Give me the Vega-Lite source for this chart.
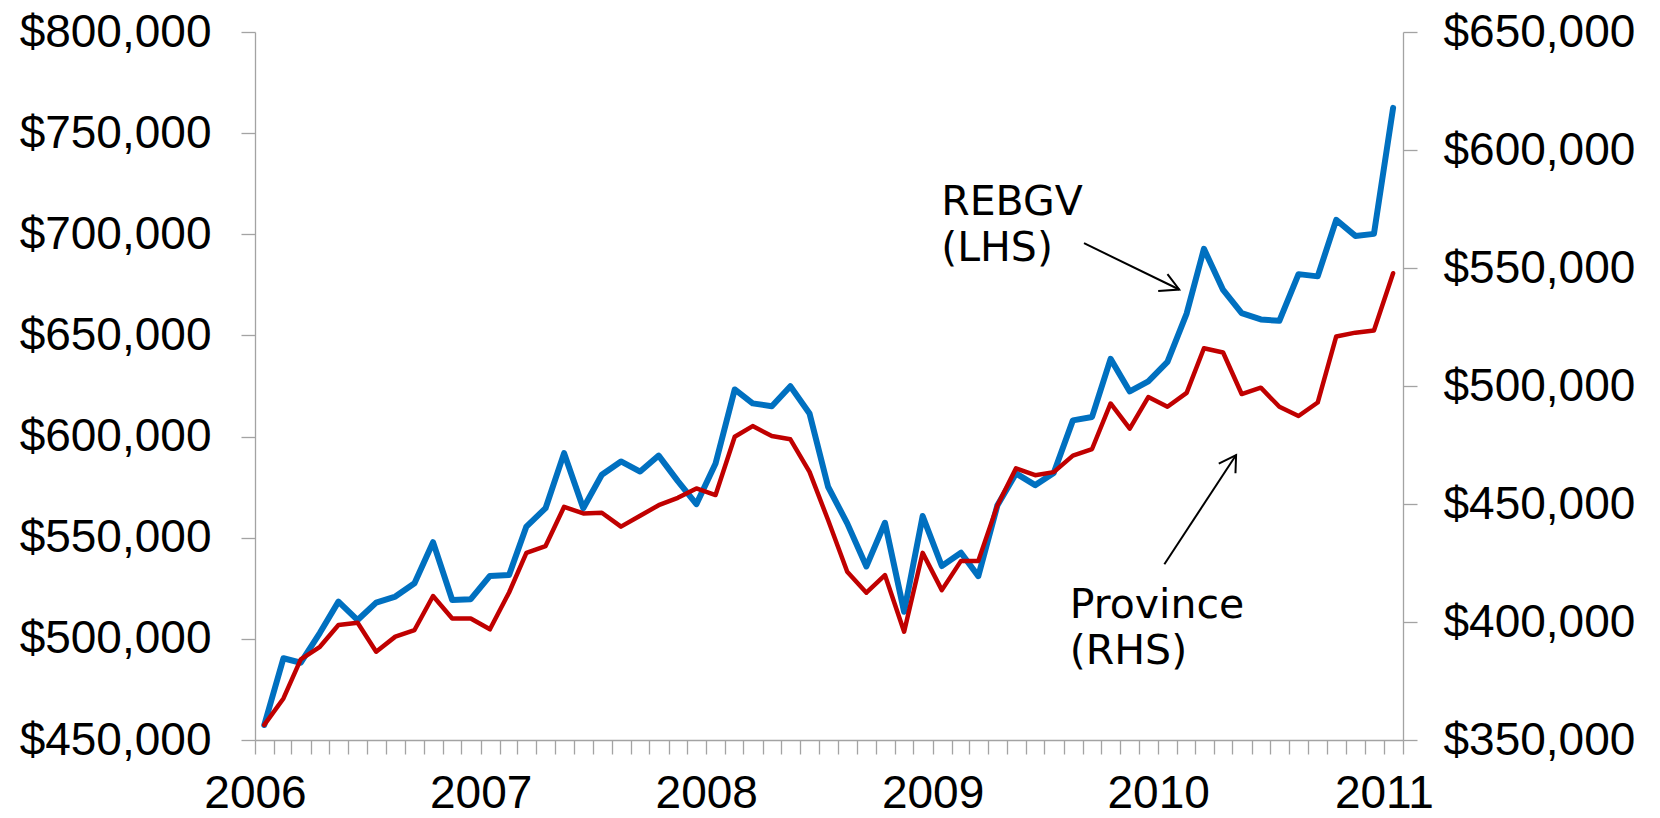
{
  "$schema": "https://vega.github.io/schema/vega-lite/v6.json",
  "width": 1148,
  "height": 708,
  "autosize": {"type": "none"},
  "padding": {"left": 255, "top": 32, "right": 257, "bottom": 78},
  "background": "#ffffff",
  "config": {"view": {"stroke": null}, "font": "Liberation Sans"},
  "datasets": {
    "rebgv": [
      {"date": "2006-01-16", "value": 457400}, {"date": "2006-02-16", "value": 490400}, {"date": "2006-03-16", "value": 488200},
      {"date": "2006-04-16", "value": 503000}, {"date": "2006-05-16", "value": 518400}, {"date": "2006-06-16", "value": 509300},
      {"date": "2006-07-16", "value": 517900}, {"date": "2006-08-16", "value": 520900}, {"date": "2006-09-16", "value": 527500},
      {"date": "2006-10-16", "value": 547800}, {"date": "2006-11-16", "value": 519200}, {"date": "2006-12-16", "value": 519600},
      {"date": "2007-01-16", "value": 531100}, {"date": "2007-02-16", "value": 531600}, {"date": "2007-03-16", "value": 555500},
      {"date": "2007-04-16", "value": 564600}, {"date": "2007-05-16", "value": 591800}, {"date": "2007-06-16", "value": 564600},
      {"date": "2007-07-16", "value": 581100}, {"date": "2007-08-16", "value": 587700}, {"date": "2007-09-16", "value": 582700},
      {"date": "2007-10-16", "value": 590600}, {"date": "2007-11-16", "value": 578000}, {"date": "2007-12-16", "value": 566600},
      {"date": "2008-01-16", "value": 586700}, {"date": "2008-02-16", "value": 623300}, {"date": "2008-03-16", "value": 616400},
      {"date": "2008-04-16", "value": 615000}, {"date": "2008-05-16", "value": 624900}, {"date": "2008-06-16", "value": 611400},
      {"date": "2008-07-16", "value": 575200}, {"date": "2008-08-16", "value": 557100}, {"date": "2008-09-16", "value": 535800},
      {"date": "2008-10-16", "value": 557400}, {"date": "2008-11-16", "value": 513400}, {"date": "2008-12-16", "value": 560700},
      {"date": "2009-01-16", "value": 536000}, {"date": "2009-02-16", "value": 542600}, {"date": "2009-03-16", "value": 531000},
      {"date": "2009-04-16", "value": 566100}, {"date": "2009-05-16", "value": 581800}, {"date": "2009-06-16", "value": 576000},
      {"date": "2009-07-16", "value": 582000}, {"date": "2009-08-16", "value": 608000}, {"date": "2009-09-16", "value": 609700},
      {"date": "2009-10-16", "value": 638400}, {"date": "2009-11-16", "value": 622300}, {"date": "2009-12-16", "value": 627300},
      {"date": "2010-01-16", "value": 636900}, {"date": "2010-02-16", "value": 660800}, {"date": "2010-03-16", "value": 692800},
      {"date": "2010-04-16", "value": 672500}, {"date": "2010-05-16", "value": 661000}, {"date": "2010-06-16", "value": 657900},
      {"date": "2010-07-16", "value": 657200}, {"date": "2010-08-16", "value": 680300}, {"date": "2010-09-16", "value": 679200},
      {"date": "2010-10-16", "value": 707100}, {"date": "2010-11-16", "value": 699200}, {"date": "2010-12-16", "value": 700200},
      {"date": "2011-01-16", "value": 762500}
    ],
    "province": [
      {"date": "2006-01-16", "value": 356400}, {"date": "2006-02-16", "value": 367600}, {"date": "2006-03-16", "value": 384200},
      {"date": "2006-04-16", "value": 389500}, {"date": "2006-05-16", "value": 398700}, {"date": "2006-06-16", "value": 399700},
      {"date": "2006-07-16", "value": 387400}, {"date": "2006-08-16", "value": 393800}, {"date": "2006-09-16", "value": 396600},
      {"date": "2006-10-16", "value": 411000}, {"date": "2006-11-16", "value": 401500}, {"date": "2006-12-16", "value": 401500},
      {"date": "2007-01-16", "value": 396900}, {"date": "2007-02-16", "value": 412500}, {"date": "2007-03-16", "value": 429300},
      {"date": "2007-04-16", "value": 432200}, {"date": "2007-05-16", "value": 448800}, {"date": "2007-06-16", "value": 446000},
      {"date": "2007-07-16", "value": 446300}, {"date": "2007-08-16", "value": 440400}, {"date": "2007-09-16", "value": 445000},
      {"date": "2007-10-16", "value": 449500}, {"date": "2007-11-16", "value": 452600}, {"date": "2007-12-16", "value": 456600},
      {"date": "2008-01-16", "value": 453800}, {"date": "2008-02-16", "value": 478500}, {"date": "2008-03-16", "value": 483000},
      {"date": "2008-04-16", "value": 478800}, {"date": "2008-05-16", "value": 477400}, {"date": "2008-06-16", "value": 463600},
      {"date": "2008-07-16", "value": 443200}, {"date": "2008-08-16", "value": 421300}, {"date": "2008-09-16", "value": 412400},
      {"date": "2008-10-16", "value": 419900}, {"date": "2008-11-16", "value": 395900}, {"date": "2008-12-16", "value": 429300},
      {"date": "2009-01-16", "value": 413500}, {"date": "2009-02-16", "value": 425900}, {"date": "2009-03-16", "value": 425900},
      {"date": "2009-04-16", "value": 449500}, {"date": "2009-05-16", "value": 465100}, {"date": "2009-06-16", "value": 462200},
      {"date": "2009-07-16", "value": 463500}, {"date": "2009-08-16", "value": 470500}, {"date": "2009-09-16", "value": 473300},
      {"date": "2009-10-16", "value": 492600}, {"date": "2009-11-16", "value": 481900}, {"date": "2009-12-16", "value": 495300},
      {"date": "2010-01-16", "value": 491200}, {"date": "2010-02-16", "value": 497100}, {"date": "2010-03-16", "value": 516000},
      {"date": "2010-04-16", "value": 514200}, {"date": "2010-05-16", "value": 496600}, {"date": "2010-06-16", "value": 499300},
      {"date": "2010-07-16", "value": 491200}, {"date": "2010-08-16", "value": 487300}, {"date": "2010-09-16", "value": 493000},
      {"date": "2010-10-16", "value": 521000}, {"date": "2010-11-16", "value": 522600}, {"date": "2010-12-16", "value": 523500},
      {"date": "2011-01-16", "value": 547800}
    ],
    "notes": [
      {"side": "left", "date": "2009-01-15", "value": 709400, "label": "REBGV\n(LHS)"},
      {"side": "right", "date": "2009-08-11", "value": 401500, "label": "Province\n(RHS)"}
    ],
    "arrows": [
      {"side": "left", "part": "shaft", "seq": 0, "date": "2009-09-03", "value": 695600},
      {"side": "left", "part": "shaft", "seq": 1, "date": "2010-02-04", "value": 672700},
      {"side": "left", "part": "head", "seq": 0, "date": "2010-01-16", "value": 680300},
      {"side": "left", "part": "head", "seq": 1, "date": "2010-02-04", "value": 672700},
      {"side": "left", "part": "head", "seq": 2, "date": "2010-01-01", "value": 672000},
      {"side": "right", "part": "shaft", "seq": 0, "date": "2010-01-11", "value": 424500},
      {"side": "right", "part": "shaft", "seq": 1, "date": "2010-05-07", "value": 470750},
      {"side": "right", "part": "head", "seq": 0, "date": "2010-04-09", "value": 467150},
      {"side": "right", "part": "head", "seq": 1, "date": "2010-05-07", "value": 470750},
      {"side": "right", "part": "head", "seq": 2, "date": "2010-05-06", "value": 463050}
    ]
  },
  "encoding": {
    "x": {
      "field": "date",
      "type": "temporal",
      "scale": {
        "type": "utc",
        "domain": [
          {"year": 2006, "month": 1, "date": 1, "utc": true},
          {"year": 2011, "month": 2, "date": 1, "utc": true}
        ]
      },
      "axis": {
        "orient": "bottom",
        "title": null,
        "grid": false,
        "tickCount": {"interval": "month", "step": 1},
        "labelExpr": "utcmonth(datum.value) === 0 ? utcFormat(datum.value, '%Y') : ''",
        "labelFlush": false,
        "labelOverlap": false,
        "labelBound": false,
        "labelLimit": 0,
        "labelDx": 9.4,
        "labelPadding": 17,
        "labelFont": "Liberation Sans",
        "labelFontSize": 46,
        "labelColor": "#000000",
        "tickSize": 14,
        "tickColor": "#a3a3a3",
        "tickWidth": 1.3,
        "domainColor": "#a3a3a3",
        "domainWidth": 1.3
      }
    }
  },
  "layer": [
    {
      "encoding": {
        "y": {
          "field": "value",
          "type": "quantitative",
          "scale": {"domain": [450000, 800000], "nice": false, "zero": false},
          "axis": {
            "orient": "left",
            "title": null,
            "grid": false,
            "values": [450000, 500000, 550000, 600000, 650000, 700000, 750000, 800000],
            "format": "$,.0f",
            "labelFont": "Liberation Sans",
            "labelFontSize": 46,
            "labelColor": "#000000",
            "labelLimit": 0,
            "labelPadding": 30,
            "tickSize": 14,
            "tickColor": "#a3a3a3",
            "tickWidth": 1.3,
            "domainColor": "#a3a3a3",
            "domainWidth": 1.3
          }
        }
      },
      "layer": [
        {
          "data": {"name": "rebgv"},
          "mark": {"type": "line", "color": "#0070C0", "strokeWidth": 6, "strokeJoin": "round", "strokeCap": "round"}
        },
        {
          "data": {"name": "notes"},
          "transform": [{"filter": "datum.side === 'left'"}],
          "mark": {"type": "text", "align": "left", "baseline": "alphabetic", "lineBreak": "\n", "lineHeight": 46, "font": "DejaVu Sans", "fontSize": 41, "color": "#000000"},
          "encoding": {"text": {"field": "label"}}
        },
        {
          "data": {"name": "arrows"},
          "transform": [{"filter": "datum.side === 'left'"}],
          "mark": {"type": "line", "color": "#000000", "strokeWidth": 2},
          "encoding": {"detail": {"field": "part"}, "order": {"field": "seq"}}
        }
      ]
    },
    {
      "encoding": {
        "y": {
          "field": "value",
          "type": "quantitative",
          "scale": {"domain": [350000, 650000], "nice": false, "zero": false},
          "axis": {
            "orient": "right",
            "title": null,
            "grid": false,
            "values": [350000, 400000, 450000, 500000, 550000, 600000, 650000],
            "format": "$,.0f",
            "labelFont": "Liberation Sans",
            "labelFontSize": 46,
            "labelColor": "#000000",
            "labelLimit": 0,
            "labelPadding": 26,
            "tickSize": 14,
            "tickColor": "#a3a3a3",
            "tickWidth": 1.3,
            "domainColor": "#a3a3a3",
            "domainWidth": 1.3
          }
        }
      },
      "layer": [
        {
          "data": {"name": "province"},
          "mark": {"type": "line", "color": "#C00000", "strokeWidth": 4.5, "strokeJoin": "round", "strokeCap": "round"}
        },
        {
          "data": {"name": "notes"},
          "transform": [{"filter": "datum.side === 'right'"}],
          "mark": {"type": "text", "align": "left", "baseline": "alphabetic", "lineBreak": "\n", "lineHeight": 46, "font": "DejaVu Sans", "fontSize": 41, "color": "#000000"},
          "encoding": {"text": {"field": "label"}}
        },
        {
          "data": {"name": "arrows"},
          "transform": [{"filter": "datum.side === 'right'"}],
          "mark": {"type": "line", "color": "#000000", "strokeWidth": 2},
          "encoding": {"detail": {"field": "part"}, "order": {"field": "seq"}}
        }
      ]
    }
  ],
  "resolve": {"scale": {"y": "independent"}}
}
